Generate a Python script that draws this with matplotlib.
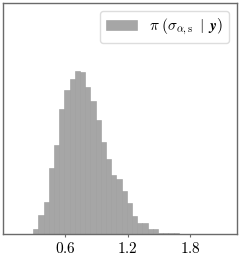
"""
Posterior histogram of sigma_{alpha,s} recreated with matplotlib.
"""

import numpy as np
import matplotlib
matplotlib.use("Agg")
import matplotlib.pyplot as plt

# ── Data ──────────────────────────────────────────────────────────────────────

BIN_START = 0.19
BIN_WIDTH = 0.05
DENSITY = [
    0.008, 0.008, 0.06, 0.22, 0.36, 0.75, 1.01, 1.41, 1.63, 1.75,
    1.84, 1.83, 1.66, 1.50, 1.29, 1.04, 0.85, 0.67, 0.62, 0.49,
    0.35, 0.21, 0.13, 0.13, 0.06, 0.06, 0.02, 0.015, 0.011, 0.015,
    0.008, 0.008,
]
X_TICKS = [0.6, 1.2, 1.8]
LABEL = r"$\pi\;(\sigma_{\alpha,\mathrm{s}}\;\mid\;\mathbfit{y})$"

# ── Style ─────────────────────────────────────────────────────────────────────

plt.rcParams["mathtext.fontset"] = "cm"
plt.rcParams["font.family"] = "serif"
plt.rcParams["font.serif"] = ["cmr10", "DejaVu Serif"]
plt.rcParams["axes.formatter.use_mathtext"] = True

SPINE = "#6a6a6a"
BAR_FACE = "#a6a6a6"
BAR_EDGE = "#9c9c9c"

# ── Plot ──────────────────────────────────────────────────────────────────────

fig = plt.figure(figsize=(2.41, 2.57), dpi=100)
ax = fig.add_axes([0.0124, 0.088, 0.971, 0.900])

edges = BIN_START + BIN_WIDTH * np.arange(len(DENSITY))
ax.bar(edges, DENSITY, width=BIN_WIDTH, align="edge",
       color=BAR_FACE, edgecolor=BAR_EDGE, linewidth=0.4, label=LABEL)

ax.set_xlim(0, 2.25)
ax.set_ylim(0, 2.61)
ax.set_xticks(X_TICKS)
ax.set_xticklabels([f"${t:.1f}$" for t in X_TICKS], fontsize=11)
ax.set_yticks([])
ax.tick_params(axis="x", length=2.5, width=0.8, color=SPINE, pad=2)
for s in ax.spines.values():
    s.set_color(SPINE)
    s.set_linewidth(1.0)

leg = ax.legend(loc="upper right", fontsize=11, fancybox=True,
                framealpha=1.0, edgecolor="#dddddd")

fig.savefig("out.png", dpi=100)
